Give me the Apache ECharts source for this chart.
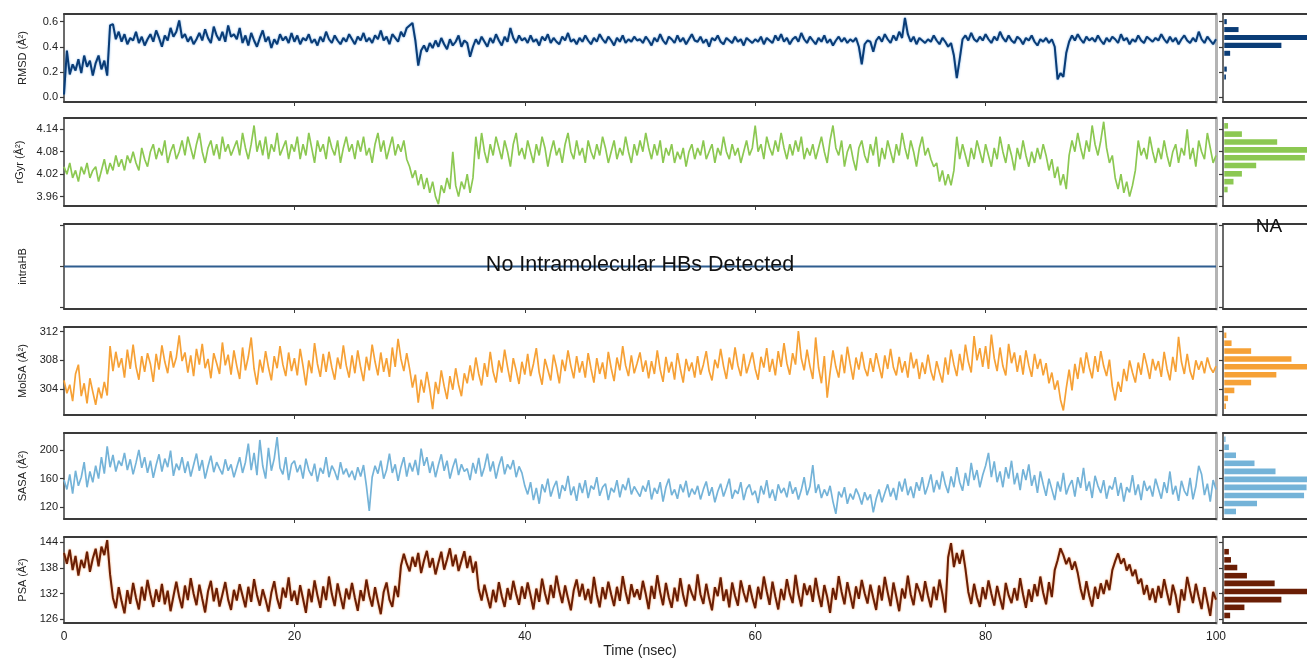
<!DOCTYPE html>
<html><head><meta charset="utf-8">
<script src="https://cdn.jsdelivr.net/npm/echarts@6/dist/echarts.min.js"></script>
<style>html,body{margin:0;padding:0;background:#fff}#c{width:1307px;height:660px}</style>
</head><body><div id="c"></div><script>
// ---------- data (sampled every 0.25 ns, 0..100 ns) ----------
const timeTicks = [0, 20, 40, 60, 80, 100];
const timeMinorTicks = [20, 40, 60, 80];

const rmsd = [
0.02,0.37,0.18,0.26,0.21,0.30,0.19,0.33,0.24,0.29,0.17,0.27,0.33,0.22,0.29,0.17,0.57,0.58,0.46,0.52,
0.44,0.50,0.42,0.47,0.45,0.52,0.43,0.48,0.41,0.46,0.50,0.44,0.53,0.47,0.40,0.49,0.45,0.55,0.48,0.52,
0.61,0.47,0.50,0.44,0.48,0.42,0.46,0.51,0.45,0.54,0.47,0.43,0.56,0.49,0.45,0.52,0.44,0.57,0.48,0.50,
0.46,0.55,0.43,0.49,0.41,0.51,0.45,0.40,0.47,0.53,0.44,0.48,0.39,0.46,0.42,0.50,0.45,0.48,0.43,0.51,
0.44,0.49,0.42,0.47,0.45,0.50,0.43,0.46,0.41,0.48,0.44,0.52,0.46,0.43,0.49,0.45,0.42,0.47,0.44,0.50,
0.46,0.42,0.48,0.45,0.51,0.44,0.47,0.43,0.49,0.46,0.53,0.45,0.48,0.42,0.50,0.47,0.44,0.52,0.48,0.55,
0.57,0.59,0.45,0.25,0.37,0.41,0.36,0.43,0.39,0.45,0.40,0.47,0.42,0.38,0.46,0.41,0.44,0.49,0.40,0.45,
0.43,0.32,0.40,0.46,0.42,0.48,0.44,0.40,0.47,0.43,0.50,0.45,0.41,0.48,0.44,0.55,0.47,0.43,0.49,0.45,
0.47,0.43,0.49,0.44,0.46,0.41,0.48,0.45,0.50,0.43,0.47,0.44,0.42,0.48,0.45,0.51,0.44,0.46,0.42,0.47,
0.44,0.49,0.45,0.42,0.47,0.44,0.50,0.46,0.43,0.48,0.45,0.41,0.47,0.44,0.49,0.43,0.46,0.44,0.48,0.45,
0.46,0.43,0.48,0.45,0.41,0.47,0.44,0.50,0.45,0.42,0.48,0.46,0.43,0.49,0.44,0.47,0.42,0.46,0.50,0.45,
0.44,0.48,0.43,0.46,0.40,0.47,0.45,0.49,0.44,0.42,0.47,0.45,0.43,0.48,0.44,0.46,0.41,0.47,0.45,0.43,
0.46,0.44,0.48,0.42,0.47,0.45,0.43,0.49,0.45,0.50,0.44,0.47,0.42,0.46,0.48,0.44,0.51,0.46,0.43,0.48,
0.45,0.42,0.47,0.44,0.49,0.43,0.46,0.41,0.45,0.48,0.44,0.47,0.43,0.46,0.44,0.47,0.40,0.26,0.42,0.45,
0.44,0.36,0.45,0.48,0.44,0.50,0.46,0.43,0.49,0.45,0.52,0.47,0.63,0.50,0.44,0.48,0.42,0.47,0.45,0.43,
0.46,0.44,0.49,0.45,0.42,0.47,0.44,0.40,0.43,0.33,0.15,0.30,0.46,0.49,0.45,0.51,0.46,0.44,0.48,0.45,
0.50,0.46,0.43,0.48,0.45,0.52,0.47,0.44,0.49,0.45,0.43,0.48,0.46,0.42,0.47,0.45,0.49,0.44,0.41,0.46,
0.44,0.47,0.43,0.46,0.40,0.14,0.19,0.16,0.35,0.44,0.49,0.45,0.50,0.46,0.43,0.48,0.45,0.47,0.44,0.49,
0.45,0.42,0.47,0.44,0.48,0.46,0.43,0.50,0.45,0.47,0.42,0.46,0.44,0.49,0.45,0.43,0.48,0.46,0.44,0.47,
0.45,0.50,0.46,0.43,0.48,0.44,0.47,0.42,0.46,0.49,0.45,0.43,0.47,0.44,0.52,0.46,0.43,0.48,0.45,0.42,0.46
];

const rgyr = [
4.04,4.02,4.05,4.01,4.03,4.00,4.04,4.02,4.05,4.01,4.03,4.04,4.00,4.03,4.06,4.02,4.05,4.03,4.07,4.04,
4.06,4.03,4.07,4.05,4.08,4.05,4.03,4.09,4.06,4.04,4.08,4.10,4.06,4.09,4.07,4.11,4.05,4.08,4.10,4.06,
4.08,4.11,4.07,4.12,4.09,4.06,4.10,4.13,4.08,4.05,4.09,4.11,4.07,4.10,4.06,4.12,4.08,4.10,4.07,4.09,
4.11,4.07,4.13,4.09,4.06,4.10,4.15,4.08,4.11,4.07,4.12,4.06,4.10,4.08,4.13,4.07,4.09,4.11,4.06,4.10,
4.08,4.12,4.06,4.10,4.07,4.13,4.09,4.05,4.11,4.08,4.10,4.06,4.12,4.09,4.07,4.11,4.05,4.09,4.12,4.08,
4.10,4.06,4.11,4.08,4.12,4.07,4.09,4.05,4.10,4.13,4.08,4.11,4.06,4.09,4.12,4.07,4.10,4.08,4.11,4.06,
4.04,4.01,4.03,3.99,4.02,3.98,4.01,3.97,4.00,3.96,3.94,3.99,3.97,4.01,3.98,4.08,3.99,3.96,4.00,3.98,
4.02,3.97,4.01,4.12,4.06,4.13,4.08,4.05,4.10,4.07,4.12,4.09,4.06,4.11,4.08,4.04,4.10,4.13,4.07,4.09,
4.06,4.11,4.08,4.05,4.10,4.07,4.12,4.09,4.04,4.08,4.11,4.07,4.09,4.05,4.10,4.13,4.08,4.06,4.11,4.07,
4.09,4.05,4.11,4.08,4.06,4.10,4.07,4.12,4.09,4.05,4.08,4.11,4.06,4.09,4.07,4.12,4.08,4.05,4.10,4.07,
4.11,4.08,4.13,4.09,4.06,4.10,4.07,4.11,4.05,4.09,4.07,4.10,4.05,4.08,4.06,4.09,4.04,4.08,4.10,4.06,
4.09,4.07,4.11,4.06,4.08,4.10,4.05,4.09,4.07,4.12,4.08,4.06,4.10,4.07,4.09,4.05,4.08,4.11,4.07,4.09,
4.15,4.08,4.10,4.06,4.12,4.09,4.07,4.11,4.08,4.13,4.09,4.06,4.10,4.07,4.11,4.08,4.12,4.06,4.09,4.07,
4.10,4.06,4.09,4.12,4.08,4.05,4.11,4.15,4.09,4.07,4.11,4.04,4.08,4.10,4.06,4.03,4.09,4.11,4.07,4.05,
4.10,4.07,4.12,4.04,4.09,4.06,4.11,4.08,4.05,4.10,4.07,4.13,4.09,4.06,4.11,4.08,4.04,4.09,4.12,4.07,
4.09,4.06,4.04,4.05,4.00,4.03,3.99,4.02,3.99,4.03,4.12,4.06,4.10,4.07,4.04,4.09,4.06,4.11,4.08,4.05,
4.10,4.07,4.04,4.09,4.06,4.12,4.08,4.05,4.10,4.07,4.03,4.09,4.06,4.11,4.07,4.04,4.08,4.05,4.09,4.06,
4.10,4.07,4.03,4.06,4.01,4.04,3.99,4.02,3.98,4.07,4.11,4.08,4.13,4.09,4.06,4.11,4.08,4.15,4.10,4.07,
4.11,4.16,4.09,4.05,4.07,4.01,3.98,4.02,3.97,4.00,3.96,3.99,4.03,4.11,4.07,4.09,4.06,4.12,4.08,4.05,
4.09,4.06,4.11,4.07,4.04,4.08,4.10,4.05,4.09,4.07,4.14,4.06,4.09,4.04,4.11,4.08,4.06,4.13,4.09,4.05,4.07
];

const intraHBTime = [0, 100];
const intraHB = [0, 0];

const molsa = [
305.2,303.4,304.6,302.3,306.1,307.4,303.0,304.8,302.0,305.5,303.6,301.8,304.2,302.7,305.0,303.1,310.0,306.5,309.2,307.0,
308.3,305.6,309.5,306.8,310.2,307.1,305.3,308.6,306.4,309.0,307.5,305.0,308.9,306.7,310.1,307.8,306.2,309.3,307.0,308.4,
311.5,307.9,309.1,306.3,308.7,305.8,309.6,307.4,310.3,306.9,308.2,305.5,309.0,307.6,306.1,310.5,307.3,308.8,306.0,309.4,
307.2,305.4,309.8,306.6,308.5,311.2,306.8,304.6,308.1,306.3,309.3,307.0,305.2,308.6,306.9,310.0,307.4,305.8,309.1,306.5,
308.3,305.9,309.6,307.2,304.5,308.0,306.2,310.4,307.5,305.7,308.9,306.4,309.2,307.0,305.3,308.4,306.8,310.1,307.3,305.6,
308.7,306.2,309.4,307.0,305.1,308.5,306.6,310.2,307.8,305.9,309.1,306.4,308.3,305.7,309.8,307.1,311.0,308.2,306.5,309.0,
306.8,304.2,306.0,302.1,305.3,303.5,306.4,304.0,301.2,305.0,303.3,306.6,304.4,302.6,305.8,303.9,306.9,304.6,303.0,306.2,
304.8,307.3,305.2,308.4,306.1,304.5,307.6,305.7,309.2,306.4,304.9,308.0,306.3,309.5,307.1,305.0,308.3,306.6,304.7,307.8,
306.0,308.9,305.8,307.5,309.7,306.3,304.6,308.2,306.7,305.2,308.8,307.0,304.8,308.1,306.5,309.4,307.2,305.5,308.6,306.3,
307.9,305.6,309.0,306.8,304.9,308.3,306.1,307.7,305.4,309.2,306.9,305.1,308.4,306.6,310.0,307.3,305.8,308.7,306.2,307.6,
309.1,306.4,308.0,305.5,307.9,306.1,309.4,306.7,305.0,308.5,306.3,307.8,305.3,309.0,306.8,304.9,308.2,306.5,307.7,305.6,
308.6,306.0,307.4,309.3,306.5,305.2,308.1,306.9,309.6,307.2,305.4,308.4,306.7,309.8,307.3,305.8,308.9,306.2,307.6,309.1,
306.8,305.3,308.5,307.0,309.7,306.4,308.2,305.9,309.3,307.1,310.4,307.6,306.0,309.0,307.4,312.1,308.3,306.6,309.5,307.2,
305.4,311.2,307.0,304.8,308.6,302.8,306.3,309.4,307.1,305.6,308.8,306.2,309.9,307.5,305.3,308.4,306.7,309.2,306.9,305.8,
308.3,306.4,309.0,307.2,305.5,308.7,306.8,309.6,307.0,305.9,308.5,306.3,307.9,305.6,309.1,306.9,308.2,305.4,307.7,306.1,
308.8,306.5,305.2,307.9,306.3,304.9,308.4,306.0,309.5,307.4,305.8,308.9,306.6,310.2,307.8,306.3,311.4,308.0,309.7,307.1,
310.0,306.8,311.6,308.3,306.5,309.8,307.2,305.9,310.3,307.6,309.1,306.4,308.7,306.0,309.4,307.3,305.7,308.9,306.8,308.2,
305.9,307.6,304.8,306.3,303.9,305.2,302.5,301.0,304.1,306.7,303.8,307.5,305.4,308.4,306.2,309.1,307.0,305.5,308.6,306.4,
309.3,307.2,305.8,308.1,304.4,302.4,305.0,303.6,306.8,305.1,308.0,306.3,304.9,307.7,306.0,309.0,307.3,305.4,308.2,306.6,
307.9,305.7,309.2,306.8,305.2,308.5,306.4,311.3,307.8,306.1,308.9,306.5,305.3,308.0,306.7,307.9,306.2,308.4,307.0,306.3,307.2
];

const sasa = [
158,145,166,139,171,150,162,183,148,170,155,178,160,190,167,205,176,193,170,185,
178,196,172,187,166,182,200,175,190,168,185,161,179,194,170,188,176,199,164,181,
172,190,168,184,163,179,195,171,186,160,177,192,169,183,174,166,187,171,180,162,
176,190,168,183,209,172,196,165,214,178,160,203,171,188,218,175,166,190,158,180,
185,169,179,160,188,172,164,181,156,175,167,190,162,178,170,158,183,166,174,162,
171,158,176,163,179,150,115,162,178,167,185,160,172,195,168,180,157,176,190,163,
182,170,186,165,202,178,190,168,184,162,179,194,171,185,160,176,188,165,180,170,
174,158,182,167,189,163,176,195,170,184,160,178,191,166,180,173,186,162,177,168,
150,138,155,130,147,125,152,141,160,135,148,157,132,151,143,164,137,149,129,154,
140,158,133,150,145,162,136,148,153,130,147,141,158,134,152,144,161,138,149,142,
135,150,142,158,131,147,139,155,128,148,160,137,145,132,152,141,157,134,146,138,
150,131,145,156,136,148,127,142,153,135,147,160,132,144,139,155,130,146,152,137,
143,126,150,138,158,133,145,129,152,140,147,134,156,139,148,131,144,162,137,149,
179,140,152,133,145,136,150,128,111,142,134,148,125,139,131,146,137,124,141,130,
138,113,132,145,127,140,152,135,147,130,156,142,160,137,149,133,155,143,162,138,
150,166,141,158,145,170,152,140,163,148,176,155,143,168,150,182,158,172,148,165,
178,196,162,184,155,170,148,176,160,185,152,168,144,173,158,180,150,165,140,170,
152,136,160,145,130,156,142,168,138,150,158,135,162,147,175,143,156,133,164,150,
140,158,132,150,145,162,136,154,128,148,141,165,137,152,130,157,143,150,135,160,
146,132,155,140,170,138,150,129,157,143,136,161,131,149,178,166,137,153,128,158,145
];

const psa = [
141.5,139.0,142.3,137.5,140.8,136.2,139.9,138.0,141.8,137.1,140.2,142.5,138.4,143.0,141.0,144.5,136.5,131.0,128.6,133.5,
130.2,127.4,132.8,129.6,134.5,131.0,128.3,133.6,130.4,135.2,131.8,128.9,133.0,130.1,134.3,129.5,132.7,127.9,131.4,134.8,
131.2,128.6,133.9,130.5,135.6,132.0,129.3,134.1,130.8,127.6,132.5,135.0,130.2,133.3,129.0,131.8,134.7,130.6,128.2,132.9,
130.4,134.2,131.5,128.8,133.6,130.1,135.4,131.7,129.2,133.0,130.6,127.8,132.2,134.9,130.9,128.5,133.4,131.1,135.8,130.3,
132.7,129.4,134.0,130.8,127.5,133.1,130.0,135.1,131.6,128.7,133.7,130.5,136.0,131.9,129.1,134.4,131.3,128.4,133.2,130.7,
134.5,131.0,128.0,132.8,130.3,135.3,131.5,129.0,133.5,130.2,127.2,132.4,134.6,130.6,128.9,133.8,131.2,138.5,141.3,139.0,
137.2,140.6,138.3,141.5,136.8,139.7,142.0,138.1,140.3,136.5,139.2,141.8,137.6,140.0,142.6,138.4,141.1,137.3,139.6,141.9,
138.0,140.8,136.9,139.5,133.0,130.4,134.1,131.2,128.6,132.9,130.0,134.7,131.4,128.9,133.3,130.6,135.0,131.9,129.4,133.7,
130.8,134.6,131.6,128.3,133.2,130.1,135.5,132.1,129.5,134.0,131.0,136.2,132.6,129.8,133.9,130.9,128.1,132.8,135.3,131.3,
134.3,130.5,133.1,129.7,135.9,131.7,128.8,133.5,130.7,134.8,131.8,129.1,133.6,130.3,136.1,132.4,129.6,134.2,131.2,133.0,
130.6,135.0,131.9,128.4,133.8,130.8,136.3,132.3,129.3,134.5,131.1,128.7,133.4,130.2,135.6,131.6,129.0,134.1,132.0,130.4,
136.5,131.8,129.6,134.3,130.9,128.1,133.5,131.4,135.8,130.3,133.0,128.8,134.6,131.5,129.2,135.1,132.2,130.0,134.0,131.0,
128.6,133.6,130.7,136.0,132.5,129.4,134.8,131.3,128.3,133.1,130.5,135.4,132.0,129.8,136.4,131.9,129.0,134.4,131.7,133.9,
130.1,135.7,131.8,128.9,134.0,131.2,127.5,133.3,130.6,136.1,132.4,129.5,134.7,131.6,128.5,133.7,130.8,135.2,132.1,129.7,
134.1,131.0,128.2,133.9,130.4,135.9,132.3,129.1,134.6,131.3,127.9,133.2,130.9,136.2,131.8,129.3,134.4,132.6,130.2,134.9,
131.5,128.8,133.6,130.5,135.3,131.9,127.6,140.5,143.8,138.2,141.5,139.0,142.2,137.8,132.4,129.6,134.3,131.1,128.9,133.5,
130.7,135.1,132.0,129.2,133.8,130.9,128.3,134.5,131.6,129.8,133.3,130.4,135.6,131.8,128.7,133.0,130.1,134.2,131.4,136.0,
132.2,129.5,134.7,131.2,137.5,139.8,142.6,141.0,138.9,140.4,137.6,139.5,136.8,133.1,130.6,134.9,131.5,129.0,133.6,130.8,
134.4,131.9,135.2,132.8,137.5,139.6,141.4,139.0,140.2,137.4,138.8,136.1,137.6,134.3,135.5,131.8,134.0,130.5,133.2,129.9,
133.8,131.0,135.4,132.2,129.3,134.1,131.6,127.5,133.0,130.4,135.9,132.7,129.8,134.3,131.2,128.4,133.5,130.1,126.8,132.4,130.6
];

// tick values
const rmsdTicks = [0.0, 0.2, 0.4, 0.6];
const rgyrTicks = [3.96, 4.02, 4.08, 4.14];
const intraHBTicks = [-1, 0, 1];
const molsaTicks = [304, 308, 312];
const sasaTicks = [120, 160, 200];
const psaTicks = [126, 132, 138, 144];

// histograms (bin centre, relative count)
const rmsdHistBins = [0.600, 0.537, 0.474, 0.411, 0.348, 0.222, 0.159];
const rmsdHistCounts = [3, 17, 100, 68, 7, 3, 2];
const rgyrHistBins = [4.149, 4.127, 4.106, 4.085, 4.064, 4.043, 4.021, 4.000, 3.979];
const rgyrHistCounts = [4.5, 21, 63, 100, 96, 38, 21, 11, 4];
const molsaHistBins = [311.5, 310.4, 309.3, 308.2, 307.1, 306.0, 304.9, 303.8, 302.7, 301.6];
const molsaHistCounts = [2.5, 8.7, 32, 80, 100, 62, 32, 12, 4.5, 2];
const sasaHistBins = [215, 203.8, 192.6, 181.4, 170.2, 159, 147.8, 136.6, 125.4, 114.2];
const sasaHistCounts = [1.5, 5.5, 14, 36, 61, 100, 98, 95, 39, 14];
const psaHistBins = [141.8, 139.9, 138.1, 136.2, 134.4, 132.5, 130.6, 128.8, 126.9];
const psaHistCounts = [5.5, 8, 15.5, 27, 60, 100, 68, 24, 7];

// ---------- layout / style ----------
const FONT = '"Liberation Sans", Arial, sans-serif';
const DARK = '#3a3a3a';
const panels = [
  {name: 'RMSD (Å²)', t: null, v: rmsd, top: 14, height: 88, min: -0.040, max: 0.661, ticks: rmsdTicks, dec: 1,
   color: '#0a3c76', width: 2, glow: 'rgba(80,150,220,0.8)', hb: rmsdHistBins, hc: rmsdHistCounts, half: 0.02},
  {name: 'rGyr (Å²)', t: null, v: rgyr, top: 118, height: 88, min: 3.935, max: 4.170, ticks: rgyrTicks, dec: 2,
   color: '#8cc852', width: 1.7, glow: null, hb: rgyrHistBins, hc: rgyrHistCounts, half: 0.0075},
  {name: 'intraHB', t: intraHBTime, v: intraHB, top: 224, height: 85, min: -1.04, max: 1.04, ticks: intraHBTicks, dec: -1,
   color: '#2f5d8f', width: 2, glow: null, hb: [], hc: [], half: 0},
  {name: 'MolSA (Å²)', t: null, v: molsa, top: 327, height: 88, min: 300.37, max: 312.66, ticks: molsaTicks, dec: 0,
   color: '#f6a136', width: 1.7, glow: null, hb: molsaHistBins, hc: molsaHistCounts, half: 0.39},
  {name: 'SASA (Å²)', t: null, v: sasa, top: 433, height: 86, min: 103.7, max: 223.7, ticks: sasaTicks, dec: 0,
   color: '#74b3d8', width: 1.7, glow: null, hb: sasaHistBins, hc: sasaHistCounts, half: 3.9},
  {name: 'PSA (Å²)', t: null, v: psa, top: 537, height: 86, min: 125.14, max: 145.24, ticks: psaTicks, dec: 0,
   color: '#6a1e05', width: 2, glow: 'rgba(240,130,50,0.8)', hb: psaHistBins, hc: psaHistCounts, half: 0.65}
];

const grid = [], xAxis = [], yAxis = [], series = [];
panels.forEach((p, i) => {
  const last = i === panels.length - 1;
  const gMain = grid.length;
  grid.push({left: 64, width: 1152, top: p.top, height: p.height, containLabel: false});
  const gHist = grid.length;
  grid.push({left: 1223, width: 100, top: p.top, height: p.height, containLabel: false});

  const xm = xAxis.length;
  xAxis.push({type: 'value', gridIndex: gMain, min: 0, max: 100, position: 'bottom',
    axisLine: {show: true, onZero: false, lineStyle: {color: DARK, width: 2}},
    axisTick: {show: true, customValues: timeMinorTicks, length: 4, lineStyle: {color: DARK, width: 1}},
    axisLabel: {show: last, customValues: timeTicks, fontSize: 12, color: '#222', margin: 8, fontFamily: FONT},
    splitLine: {show: false},
    name: last ? 'Time (nsec)' : '', nameLocation: 'middle', nameGap: 21,
    nameTextStyle: {fontSize: 14, color: '#222', fontFamily: FONT}});
  xAxis.push({type: 'value', gridIndex: gMain, min: 0, max: 100, position: 'top',
    axisLine: {show: true, onZero: false, lineStyle: {color: DARK, width: 2}},
    axisTick: {show: false}, axisLabel: {show: false}, splitLine: {show: false}});
  const xh = xAxis.length;
  xAxis.push({type: 'value', gridIndex: gHist, min: 0, max: 100, position: 'bottom',
    axisLine: {show: true, onZero: false, lineStyle: {color: DARK, width: 2}},
    axisTick: {show: false}, axisLabel: {show: false}, splitLine: {show: false}});
  xAxis.push({type: 'value', gridIndex: gHist, min: 0, max: 100, position: 'top',
    axisLine: {show: true, onZero: false, lineStyle: {color: DARK, width: 2}},
    axisTick: {show: false}, axisLabel: {show: false}, splitLine: {show: false}});

  const ym = yAxis.length;
  yAxis.push({type: 'value', gridIndex: gMain, min: p.min, max: p.max, position: 'left',
    axisLine: {show: true, onZero: false, lineStyle: {color: DARK, width: 1.5}},
    axisTick: {show: true, customValues: p.ticks, length: 4, lineStyle: {color: DARK, width: 1.2}},
    axisLabel: {show: p.dec >= 0, customValues: p.ticks, fontSize: 11, color: '#222', margin: 6, fontFamily: FONT,
      formatter: (v) => p.dec >= 0 ? Number(v).toFixed(p.dec) : ''},
    splitLine: {show: false},
    name: p.name, nameLocation: 'middle', nameGap: 36, nameRotate: 90,
    nameTextStyle: {fontSize: 11, color: '#222', fontFamily: FONT}});
  yAxis.push({type: 'value', gridIndex: gMain, min: 0, max: 1, position: 'right',
    axisLine: {show: true, onZero: false, lineStyle: {color: '#b4b4b4', width: 3}},
    axisTick: {show: false}, axisLabel: {show: false}, splitLine: {show: false}});
  const yh = yAxis.length;
  yAxis.push({type: 'value', gridIndex: gHist, min: p.min, max: p.max, position: 'left',
    axisLine: {show: true, onZero: false, lineStyle: {color: DARK, width: 1.5}},
    axisTick: {show: true, customValues: p.ticks, length: 4, lineStyle: {color: DARK, width: 1.2}},
    axisLabel: {show: false}, splitLine: {show: false}});

  const times = p.t ? p.t : p.v.map((_, k) => k * 100 / (p.v.length - 1));
  const lineStyle = {color: p.color, width: p.width};
  if (p.glow) { lineStyle.shadowColor = p.glow; lineStyle.shadowBlur = 2; }
  series.push({type: 'line', xAxisIndex: xm, yAxisIndex: ym, showSymbol: false, symbol: 'none',
    data: p.v.map((v, k) => [times[k], v]), lineStyle, silent: true, z: 3, clip: true});

  if (p.hb.length) {
    const half = p.half, col = p.color;
    series.push({type: 'custom', xAxisIndex: xh, yAxisIndex: yh, silent: true, z: 3,
      data: p.hb.map((b, k) => [p.hc[k], b]),
      renderItem: (params, api) => {
        const n = api.value(0), c = api.value(1);
        const a = api.coord([1.5, c + half]);
        const b = api.coord([1.5 + n, c - half]);
        return {type: 'rect', shape: {x: a[0], y: a[1], width: b[0] - a[0], height: b[1] - a[1]},
          style: {fill: col}};
      }});
  }
});

const chart = echarts.init(document.getElementById('c'), null, {renderer: 'canvas'});
chart.setOption({
  animation: false,
  backgroundColor: '#fff',
  textStyle: {fontFamily: FONT},
  grid, xAxis, yAxis, series,
  graphic: [
    {type: 'text', x: 640, y: 265, z: 10,
     style: {text: 'No Intramolecular HBs Detected', fontSize: 21.5, fontFamily: FONT, fill: '#111', align: 'center', verticalAlign: 'middle'}},
    {type: 'text', x: 1269, y: 227, z: 10,
     style: {text: 'NA', fontSize: 19, fontFamily: FONT, fill: '#111', align: 'center', verticalAlign: 'middle'}}
  ]
});
</script></body></html>
